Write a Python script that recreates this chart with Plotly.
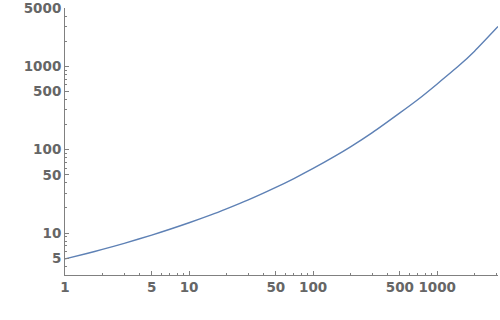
import plotly.graph_objects as go

x_vals = [1, 1.5, 2, 3, 5, 7, 10, 15, 20, 30, 50, 70, 100, 150, 200, 300, 500, 700, 1000, 1500, 2000, 3090]
y_vals = [4.9, 5.69, 6.37, 7.53, 9.45, 11.1, 13.3, 16.5, 19.5, 25.0, 35.3, 45.1, 59.5, 83.5, 108, 160, 276, 400, 615, 1020, 1520, 3000]

x_major = [1, 5, 10, 50, 100, 500, 1000]
x_major_text = ["1", "5", "10", "50", "100", "500", "1000"]
x_minor = [2, 3, 4, 6, 7, 8, 9, 20, 30, 40, 60, 70, 80, 90, 200, 300, 400, 600, 700, 800, 900, 2000, 3000]
y_major = [5, 10, 50, 100, 500, 1000, 5000]
y_major_text = ["5", "10", "50", "100", "500", "1000", "5000"]
y_minor = [4, 6, 7, 8, 9, 20, 30, 40, 60, 70, 80, 90, 200, 300, 400, 600, 700, 800, 900, 2000, 3000, 4000]

LINE = "#5E81B5"
AX = "#808080"
TXT = "#666666"
font = dict(family="DejaVu Sans", size=13.5, color=TXT, weight="bold")

fig = go.Figure()
fig.add_trace(go.Scatter(x=x_vals, y=y_vals, mode="lines",
                         line=dict(color=LINE, width=1.4, shape="spline", smoothing=0.6),
                         hoverinfo="skip", showlegend=False))

fig.update_xaxes(type="log", range=[0, 3.49], showgrid=False, zeroline=False,
                 showline=True, linecolor=AX, linewidth=1, mirror=False,
                 tickmode="array", tickvals=x_major, ticktext=x_major_text,
                 ticks="inside", ticklen=4, tickwidth=1, tickcolor=AX, tickfont=font,
                 ticklabeloverflow="allow", automargin=False,
                 minor=dict(tickmode="array", tickvals=x_minor, ticks="inside", ticklen=2,
                            tickwidth=1, tickcolor=AX, showgrid=False))
fig.update_yaxes(type="log", range=[0.497, 3.6995], showgrid=False, zeroline=False,
                 showline=True, linecolor=AX, linewidth=1, mirror=False,
                 tickmode="array", tickvals=y_major, ticktext=y_major_text,
                 ticks="inside", ticklen=4, tickwidth=1, tickcolor=AX, tickfont=font,
                 ticklabeloverflow="allow", automargin=False,
                 minor=dict(tickmode="array", tickvals=y_minor, ticks="inside", ticklen=2,
                            tickwidth=1, tickcolor=AX, showgrid=False))

fig.update_layout(width=500, height=320, margin=dict(l=65, r=2, t=8, b=45),
                  paper_bgcolor="white", plot_bgcolor="white")
fig.write_html("out.html")
